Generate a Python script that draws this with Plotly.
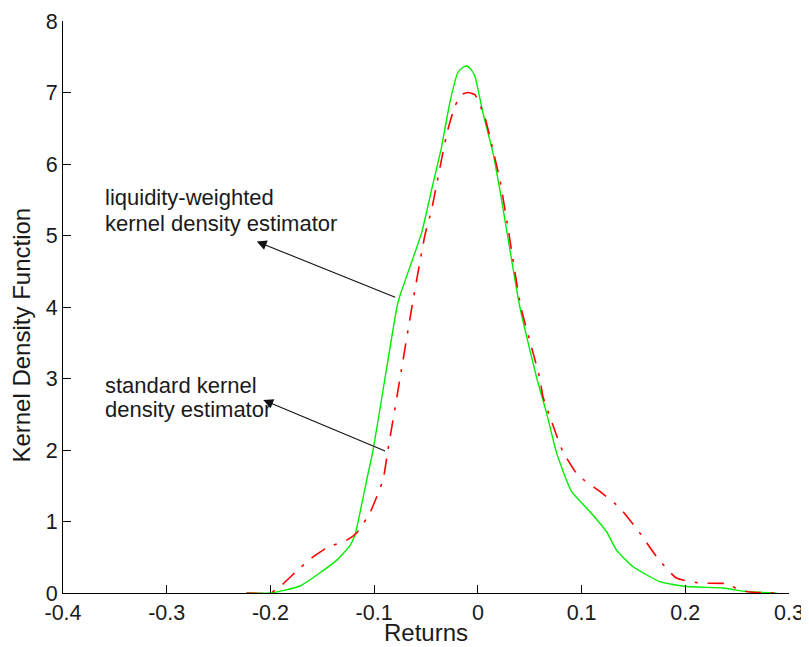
import plotly.graph_objects as go

# ---- data ----
lw_x = [-0.223, -0.2, -0.1715, -0.136, -0.123, -0.1185, -0.1137, -0.1072, -0.101, -0.0896,
        -0.078, -0.0751, -0.0542, -0.0446, -0.035, -0.027, -0.0193, -0.0145, -0.0109, -0.0065,
        -0.0029, 0.0048, 0.0145, 0.0212, 0.0277, 0.0405, 0.0569, 0.0662, 0.0759, 0.0903,
        0.1079, 0.124, 0.1337, 0.1494, 0.1754, 0.2011, 0.2361, 0.259, 0.2879]
lw_y = [0.0, 0.0, 0.098, 0.46, 0.67, 0.81, 1.12, 1.58, 2.0, 3.0,
        4.0, 4.16, 5.04, 5.64, 6.24, 6.86, 7.28, 7.35, 7.37, 7.32,
        7.23, 6.72, 6.16, 5.64, 5.08, 4.0, 3.0, 2.52, 1.96, 1.42,
        1.14, 0.86, 0.60, 0.37, 0.16, 0.09, 0.07, 0.02, 0.0]

std_x = [-0.223, -0.2, -0.1908, -0.1715, -0.1602, -0.1458, -0.1265, -0.1169, -0.1041, -0.0915,
         -0.0867, -0.0751, -0.0636, -0.0511, -0.0446, -0.0398, -0.0337, -0.0289, -0.0221, -0.0157,
         -0.0096, -0.0029, 0.0068, 0.0145, 0.0212, 0.0289, 0.0415, 0.0598, 0.0627, 0.0723,
         0.0819, 0.0964, 0.1176, 0.1369, 0.1561, 0.1722, 0.1915, 0.214, 0.2397, 0.2525,
         0.265, 0.288]
std_y = [0.0, 0.0, 0.09, 0.35, 0.49, 0.63, 0.74, 0.84, 1.12, 1.58,
         2.0, 3.0, 4.0, 5.0, 5.36, 5.71, 6.16, 6.48, 6.81, 6.97,
         7.0, 6.97, 6.65, 6.2, 5.78, 5.12, 4.0, 3.0, 2.75, 2.35,
         1.98, 1.65, 1.42, 1.19, 0.84, 0.51, 0.21, 0.14, 0.13, 0.04,
         0.01, 0.0]

x_ticks = [-0.4, -0.3, -0.2, -0.1, 0.0, 0.1, 0.2, 0.3]
x_tick_labels = ["-0.4", "-0.3", "-0.2", "-0.1", "0", "0.1", "0.2", "0.3"]
y_ticks = [0, 1, 2, 3, 4, 5, 6, 7, 8]

label_lw = ["liquidity-weighted", "kernel density estimator"]
label_lw_y = [5.535, 5.161]
label_std = ["standard kernel", "density estimator"]
label_std_y = [2.90, 2.572]
label_x = -0.3594

arrow_lw = {"head": (-0.2132, 4.916), "tail": (-0.0783, 4.128)}
arrow_std = {"head": (-0.2069, 2.70), "tail": (-0.088, 1.977)}

FONT = "Liberation Sans, Arial, sans-serif"
TXT = "#1a1a1a"
# page body adds an 8px offset, so the figure is sized 8px smaller
W, H = 801, 639
ML, MR, MT, MB = 55, 20, 13, 54
PW = W - ML - MR

fig = go.Figure()
fig.add_trace(go.Scatter(x=lw_x, y=lw_y, mode="lines", name="liquidity-weighted",
                         line=dict(color="#00ee00", width=1.4, shape="spline", smoothing=0.5),
                         showlegend=False))
fig.add_trace(go.Scatter(x=std_x, y=std_y, mode="lines", name="standard",
                         line=dict(color="#ff0000", width=1.6, dash="16px,10px,3px,10px",
                                   shape="spline", smoothing=0.5),
                         showlegend=False))

annotations = []
for txt, yy in zip(label_lw + label_std, label_lw_y + label_std_y):
    annotations.append(dict(x=label_x, y=yy, xref="x", yref="y", text=txt, showarrow=False,
                            xanchor="left", yanchor="middle", xshift=-2,
                            font=dict(family=FONT, size=22, color=TXT)))
for arr in (arrow_lw, arrow_std):
    annotations.append(dict(x=arr["head"][0], y=arr["head"][1], ax=arr["tail"][0], ay=arr["tail"][1],
                            xref="x", yref="y", axref="x", ayref="y", text="", showarrow=True,
                            arrowhead=2, arrowsize=1.8, arrowwidth=1.1, arrowcolor="#111111"))
# axis titles placed as in the reference
annotations.append(dict(x=-41 / PW, y=3.6, xref="paper", yref="y",
                        text="Kernel Density Function",
                        showarrow=False, textangle=-90, xanchor="center", yanchor="middle",
                        font=dict(family=FONT, size=24, color=TXT)))
annotations.append(dict(x=0.5, y=0, xref="paper", yref="paper", yshift=-39,
                        text="Returns", showarrow=False, xanchor="center", yanchor="middle",
                        font=dict(family=FONT, size=24, color=TXT)))

fig.update_layout(
    width=W, height=H,
    margin=dict(l=ML, r=MR, t=MT, b=MB, autoexpand=False),
    plot_bgcolor="white", paper_bgcolor="white",
    annotations=annotations,
    font=dict(family=FONT, size=21, color=TXT),
)

fig.update_xaxes(range=[-0.4, 0.3], tickvals=x_ticks, ticktext=x_tick_labels, automargin=False,
                 showline=True, linecolor="black", linewidth=1, mirror=False,
                 ticks="inside", ticklen=8, tickcolor="black", tickwidth=1,
                 showgrid=False, zeroline=False,
                 tickfont=dict(family=FONT, size=21.5, color=TXT))
fig.update_yaxes(range=[0, 8], tickvals=y_ticks, automargin=False,
                 showline=True, linecolor="black", linewidth=1, mirror=False,
                 ticks="inside", ticklen=8, tickcolor="black", tickwidth=1,
                 showgrid=False, zeroline=False,
                 tickfont=dict(family=FONT, size=21.5, color=TXT))

fig.write_html("out.html")
